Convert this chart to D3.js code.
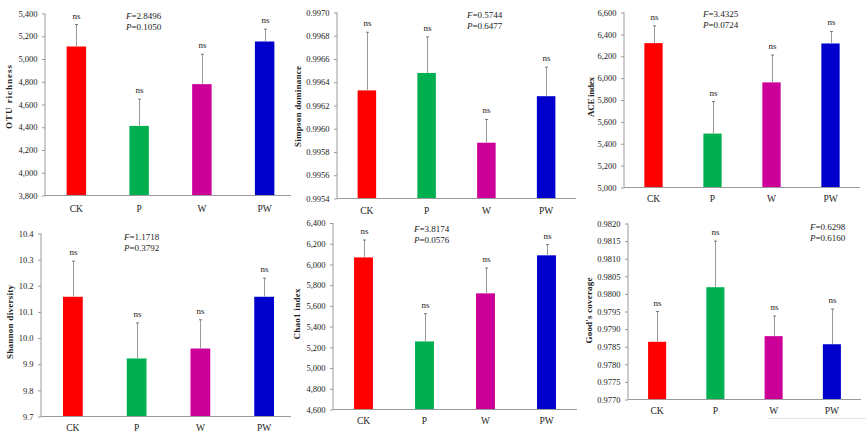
<!DOCTYPE html>
<html>
<head>
<meta charset="utf-8">
<script src="https://cdn.jsdelivr.net/npm/d3@7"></script>
<style>
  html, body { margin: 0; padding: 0; background: #fff; }
  svg { display: block; }
  text { font-family: "Liberation Serif", "DejaVu Serif", serif; fill: #222; }
</style>
</head>
<body>
<div id="chart"></div>
<script>
// alpha diversity panels, four treatments each
const groups = ['CK', 'P', 'W', 'PW'];
const groupColors = ['#ff0000', '#00b050', '#cc0099', '#0000cc'];

const otuMean = [5110, 4412, 4779, 5154];
const otuErr = [193, 235, 263, 108];
const simpsonMean = [0.99633, 0.99648, 0.99588, 0.99628];
const simpsonErr = [0.00050, 0.00031, 0.00020, 0.00025];
const aceMean = [6320, 5493, 5961, 6317];
const aceErr = [158, 292, 250, 110];
const shannonMean = [10.158, 9.922, 9.960, 10.158];
const shannonErr = [0.136, 0.136, 0.110, 0.071];
const chaoMean = [6068, 5257, 5721, 6088];
const chaoErr = [168, 267, 244, 103];
const goodsMean = [0.97864, 0.98019, 0.97880, 0.97857];
const goodsErr = [0.00086, 0.00131, 0.00057, 0.00100];

const sigLabels = ['ns', 'ns', 'ns', 'ns'];

const otuTicks = [3800, 4000, 4200, 4400, 4600, 4800, 5000, 5200, 5400];
const simpsonTicks = [0.9954, 0.9956, 0.9958, 0.9960, 0.9962, 0.9964, 0.9966, 0.9968, 0.9970];
const aceTicks = [5000, 5200, 5400, 5600, 5800, 6000, 6200, 6400, 6600];
const shannonTicks = [9.7, 9.8, 9.9, 10.0, 10.1, 10.2, 10.3, 10.4];
const chaoTicks = [4600, 4800, 5000, 5200, 5400, 5600, 5800, 6000, 6200, 6400];
const goodsTicks = [0.9770, 0.9775, 0.9780, 0.9785, 0.9790, 0.9795, 0.9800, 0.9805, 0.9810, 0.9815, 0.9820];

const fStats = ['2.8496', '0.5744', '3.4325', '1.1718', '3.8174', '0.6298'];
const pStats = ['0.1050', '0.6477', '0.0724', '0.3792', '0.0576', '0.6160'];

const W = 867, H = 436;
const svg = d3.select('#chart').append('svg').attr('width', W).attr('height', H);

// panel geometry (layout only); lineEnd = where the drawn baseline stops
const panels = [
  { mean: otuMean, err: otuErr, ticks: otuTicks, fmt: d3.format(','), label: 'OTU richness', labLen: 64,
    x0: 45, x1: 296, lineEnd: 291, y0: 13.5, y1: 195.5, labX: 9, labY: 97, statX: 126, statY: 19, xlabY: 212 },
  { mean: simpsonMean, err: simpsonErr, ticks: simpsonTicks, fmt: d3.format('.4f'), label: 'Simpson dominance', labLen: 81,
    x0: 337, x1: 576, lineEnd: 576, y0: 12.5, y1: 198.5, labX: 298, labY: 106.5, statX: 467, statY: 18, xlabY: 214 },
  { mean: aceMean, err: aceErr, ticks: aceTicks, fmt: d3.format(','), label: 'ACE index', labLen: 40,
    x0: 624, x1: 860, lineEnd: 860, y0: 12.5, y1: 187.5, labX: 591, labY: 97, statX: 703, statY: 17, xlabY: 202 },
  { mean: shannonMean, err: shannonErr, ticks: shannonTicks, fmt: d3.format('.1f'), label: 'Shannon diversity', labLen: 74,
    x0: 41, x1: 296, lineEnd: 291, y0: 233.5, y1: 416.5, labX: 10, labY: 322, statX: 124, statY: 240, xlabY: 431 },
  { mean: chaoMean, err: chaoErr, ticks: chaoTicks, fmt: d3.format(','), label: 'Chao1 index', labLen: 51,
    x0: 333, x1: 577, lineEnd: 577, y0: 223, y1: 409.5, labX: 297, labY: 314, statX: 414, statY: 232, xlabY: 424 },
  { mean: goodsMean, err: goodsErr, ticks: goodsTicks, fmt: d3.format('.4f'), label: "Good's coverage", labLen: 66,
    x0: 628, x1: 861, lineEnd: 861, y0: 223.5, y1: 399.5, labX: 589, labY: 310.5, statX: 810, statY: 230, xlabY: 414 }
];

panels.forEach((p, pi) => {
  const g = svg.append('g');
  const x = d3.scaleBand().domain(groups).range([p.x0, p.x1]).paddingInner(0.69).paddingOuter(0.345);
  const y = d3.scaleLinear().domain(d3.extent(p.ticks)).range([p.y1, p.y0]);

  // bars
  g.selectAll('rect.bar')
    .data(groups)
    .enter().append('rect')
    .attr('x', d => x(d))
    .attr('width', x.bandwidth())
    .attr('y', (d, i) => y(p.mean[i]))
    .attr('height', (d, i) => p.y1 - y(p.mean[i]))
    .attr('fill', (d, i) => groupColors[i]);

  // upper error bars + significance letters
  const eb = g.append('g').attr('stroke', '#9a9a9a').attr('stroke-width', 1);
  groups.forEach((d, i) => {
    const cx = Math.round(x(d) + x.bandwidth() / 2) + 0.5;
    const top = y(p.mean[i] + p.err[i]);
    eb.append('line').attr('x1', cx).attr('x2', cx).attr('y1', y(p.mean[i])).attr('y2', top);
    eb.append('line').attr('x1', cx - 1.5).attr('x2', cx + 1.5).attr('y1', top).attr('y2', top).attr('stroke', '#777');
    g.append('text')
      .attr('x', cx).attr('y', top - 6)
      .attr('text-anchor', 'middle')
      .attr('font-size', 9)
      .text(sigLabels[i]);
  });

  // y axis
  const yAxis = d3.axisLeft(y).tickValues(p.ticks).tickFormat(p.fmt).tickSize(3).tickPadding(4.5);
  const ya = g.append('g').attr('transform', `translate(${p.x0},0)`).call(yAxis);
  ya.select('.domain').attr('stroke', '#9a9a9a').attr('d', `M0,${p.y0}V${p.y1}`);
  ya.selectAll('.tick line').attr('stroke', '#9a9a9a');
  ya.selectAll('.tick text').attr('font-family', '"Liberation Serif", serif').attr('font-size', 8.5).attr('fill', '#222');

  // x axis baseline
  g.append('line')
    .attr('x1', p.x0).attr('x2', p.lineEnd)
    .attr('y1', p.y1).attr('y2', p.y1)
    .attr('stroke', '#9a9a9a');

  groups.forEach(d => {
    g.append('text')
      .attr('x', x(d) + x.bandwidth() / 2).attr('y', p.xlabY)
      .attr('text-anchor', 'middle')
      .attr('font-size', 9.5)
      .text(d);
  });

  // axis title
  g.append('text')
    .attr('transform', `translate(${p.labX},${p.labY}) rotate(-90)`)
    .attr('x', -p.labLen / 2)
    .attr('dominant-baseline', 'central')
    .attr('font-size', 9)
    .attr('font-weight', 700)
    .attr('textLength', p.labLen)
    .attr('lengthAdjust', 'spacing')
    .text(p.label);

  // ANOVA text
  const s1 = g.append('text').attr('x', p.statX).attr('y', p.statY).attr('font-size', 9);
  s1.append('tspan').attr('font-style', 'italic').text('F');
  s1.append('tspan').text('=' + fStats[pi]);
  const s2 = g.append('text').attr('x', p.statX).attr('y', p.statY + 10.5).attr('font-size', 9);
  s2.append('tspan').attr('font-style', 'italic').text('P');
  s2.append('tspan').text('=' + pStats[pi]);
});

// faint crop line left over from the composed figure
svg.append('line').attr('x1', 768).attr('x2', 866).attr('y1', 418.5).attr('y2', 418.5).attr('stroke', '#e4e4e4');
</script>
</body>
</html>
